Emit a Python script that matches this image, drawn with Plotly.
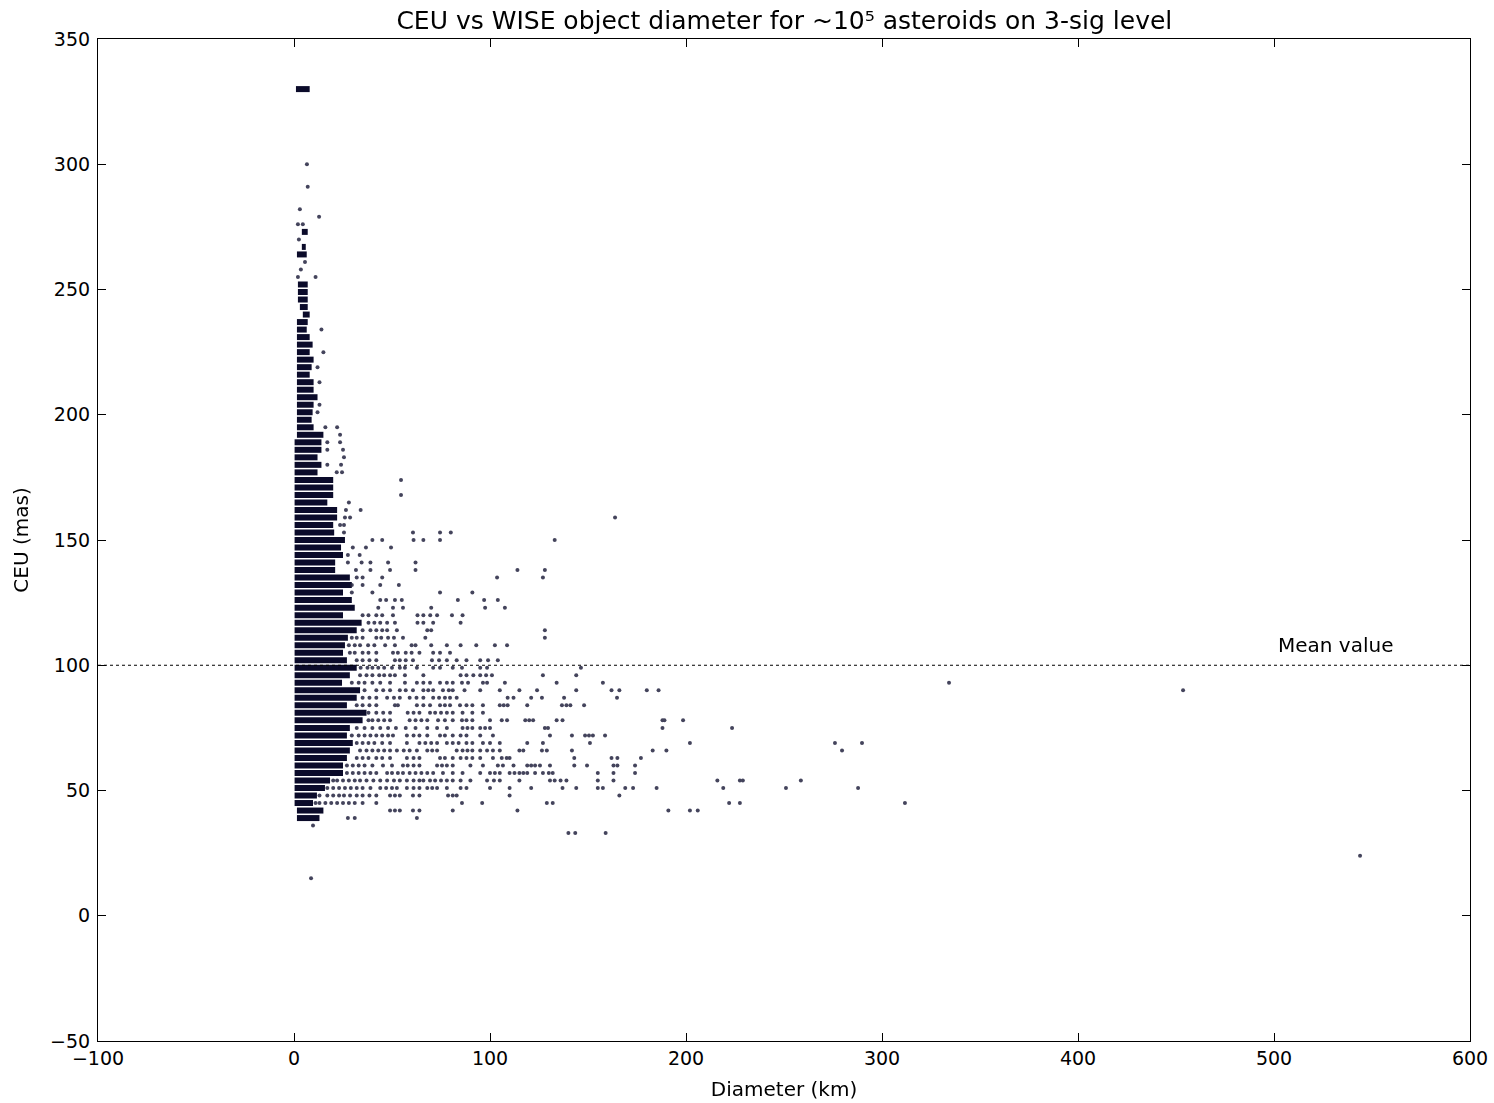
import plotly.graph_objects as go

# ---------------- data ----------------
# Dense, saturated runs of points at each quantised CEU level (mas): start/end diameter (km)
dense_ceu = [330, 273, 267, 264,
             252, 249, 246, 243, 240, 237, 234, 231, 228, 225, 222, 219, 216, 213, 210, 207, 204, 201, 198, 195, 192,
             189, 186, 183, 180, 177, 174, 171, 168, 165, 162, 159, 156, 153, 150, 147, 144, 141, 138, 135, 132, 129,
             126, 123, 120, 117, 114, 111, 108, 105, 102, 99, 96, 93, 90, 87, 84, 81, 78, 75, 72, 69, 66, 63, 60, 57,
             54, 51, 48, 45, 42, 39]
dense_start = [1, 4, 4, 1.5,
               2, 2, 2, 3, 4.5, 1.5, 1.5, 1.5, 1.5, 1.5, 1.5, 1.5, 1.5, 1.5, 1.5, 1.5, 1.5, 1.5, 1.5, 1.5, 1.5,
               0.3, 0.3, 0.3, 0.3, 0.3, 0.3, 0.3, 0.3, 0.3, 0.3, 0.3, 0.3, 0.3, 0.3, 0.3, 0.3, 0.3, 0.3, 0.3, 0.3, 0.3,
               0.3, 0.3, 0.3, 0.3, 0.3, 0.3, 0.3, 0.3, 0.3, 0.3, 0.3, 0.3, 0.3, 0.3, 0.3, 0.3, 0.3, 0.3, 0.3, 0.3, 0.3,
               0.3, 0.3, 0.3, 0.3, 0.3, 0.3, 0.3, 1.5, 1.5]
dense_end = [8, 7, 6, 6.5,
             7, 7, 7, 7, 8, 7, 6.5, 8, 9.5, 8, 10, 9, 8, 10, 10, 12, 10, 9.5, 9, 10, 15,
             14, 14, 12, 14, 12, 20, 20, 20, 17, 22, 22, 20, 20.5, 26, 24, 25, 21, 21, 28.5, 29.5, 25,
             29.5, 31, 25, 34.5, 32, 27.5, 26, 25, 27, 32, 28.5, 24.5, 33.7, 32, 27, 37, 35, 28.5, 27, 30, 28.5, 27,
             25, 25, 18.4, 15.8, 11.7, 9.7, 15, 13]

# Individual (sparse) points: CEU level and the diameters (km) of the points on it
sparse_ceu = [300, 291, 282, 279, 276, 270, 261, 258, 255, 234, 225, 219, 213, 204, 201, 195, 192, 189, 186, 183,
              180, 177, 174, 168, 165, 162, 159, 156, 153, 150, 147, 144, 141, 138, 135, 132, 129, 126, 123, 120,
              117, 114, 111, 108, 105, 102, 99, 96, 93, 90, 87, 84, 81, 78, 75, 72, 69, 66, 63, 60, 57, 54, 51,
              48, 45, 42, 39, 36, 33, 24, 15]
sparse_diam = [
    [6.6], [7], [3], [12.8], [2, 4.5], [2.5], [5.6], [3.5], [2, 11], [14], [15], [12], [13], [13], [12],
    [16, 22], [23.5], [17, 23.5], [17, 25], [25.5],
    [17, 24], [21.8, 24.5], [54.6], [54.6], [28], [26.5, 34], [26, 28.6, 163.8], [23.5, 25.5],
    [25.5, 60.7, 74.5, 80], [40, 45, 61, 66, 74.5, 133], [30, 36.7, 49.5], [27.5, 33.5],
    [27.5, 34.5, 39, 48, 62], [31.6, 39, 49, 62, 114, 128], [32, 35, 45, 103.6, 127], [29.5, 35, 44, 53.5],
    [29.5, 40, 74.5, 91], [44, 47, 51.5, 55, 83.6, 97, 104], [43, 50.5, 55.6, 70, 97.5, 107.6],
    [35, 38, 42, 45, 50.5, 63, 66, 69.5, 73, 80.6, 86],
    [38, 41, 44, 47.5, 51.5, 63, 66, 71, 85],
    [35, 39, 42, 45, 47.5, 52.5, 68, 70, 128],
    [29.5, 32, 35, 42, 44.5, 48, 51, 55.6, 67, 128],
    [28, 31, 33.7, 37.8, 41, 46.5, 51.5, 60, 62, 70, 78, 85, 93, 102.5, 108.7],
    [28.5, 31, 35, 38, 42, 50.5, 53, 57, 60, 64, 71, 74.5, 79.6],
    [32, 35, 38.5, 42, 51.5, 54, 57, 60.7, 70.4, 74, 78, 83, 88, 95, 99, 104],
    [34, 37.5, 40, 43, 46, 50, 54, 56.6, 62.7, 71, 74.5, 81, 85.7, 95, 98.5, 146.4],
    [33.7, 37, 40, 43.5, 46, 49, 51.5, 56.6, 66, 85, 88, 91.5, 95, 98, 101, 127, 144],
    [29.5, 33, 36, 40, 44, 49, 56.6, 62.7, 66, 69.4, 74.5, 78, 81, 85.7, 88.8, 96.4, 98.5, 107.6, 134, 157.6, 334.2],
    [36, 42, 45.5, 49, 54, 57, 60.7, 66, 68.5, 71, 76, 79, 81, 87, 95, 105, 115, 124, 144, 162, 166, 180, 186, 453.6],
    [35, 38.5, 42, 47.5, 51, 54, 59, 62.5, 66, 71, 74, 77, 79.6, 83, 109, 112, 121, 126.5, 137.8, 164.8],
    [32, 35, 38.5, 42, 51.5, 53, 62.7, 66, 69.4, 74.5, 77, 79.6, 84.7, 88, 91, 96.4, 105, 107, 109, 119, 136.7,
     139, 141, 148],
    [38, 42, 45.5, 49, 58, 61, 64, 69.4, 72, 75, 78, 81, 86, 91, 96.4],
    [38, 40, 43, 46, 49, 59, 62, 65, 68, 73.5, 77, 81, 85.7, 88, 91, 100, 106, 108.7, 118, 120, 122, 134, 137,
     188, 189, 198.5],
    [32, 36, 40, 44, 48, 52, 57, 62, 68, 73, 78, 86, 88.5, 91, 95, 97.5, 100, 128, 129.6, 188, 223.5],
    [29.5, 33, 36, 39, 42, 45, 48, 50.5, 57.6, 61, 64, 68, 74.5, 77, 81, 85, 88, 95, 101.5, 130.6, 141.8,
     148.5, 150.5, 152.5, 158.7],
    [32, 35, 38, 41, 45, 49, 57.6, 64, 67, 70, 73, 78, 81, 84, 88, 91, 96.4, 100, 105, 119, 127, 151, 202, 276,
     289.8],
    [33.7, 37, 40, 43, 46, 49, 52.5, 56, 59, 62.7, 68, 70.5, 73, 83, 86, 88.5, 91, 95, 98.5, 101.5, 105, 115,
     117, 126.5, 129, 141.8, 183, 190, 279.6],
    [32, 35, 38, 42, 45, 49, 57.6, 61, 64, 74.5, 77, 81, 85, 88, 91, 95, 101.5, 106, 108.5, 110, 143, 162, 165,
     177],
    [27, 30, 33, 36, 40, 45.4, 50, 55.6, 58, 61, 64, 73, 75.5, 78, 81, 90, 96.4, 104, 106.6, 112, 119, 121, 123,
     125.5, 130.6, 143, 149.5, 163, 165, 174],
    [27, 30, 33, 36, 39, 42, 47.5, 50, 53, 55.6, 59, 62, 65, 68, 71, 76, 81, 86, 95, 100, 102.5, 105, 110,
     112.5, 115, 117, 119, 123, 127, 130, 132, 155, 163, 174],
    [20, 22, 25, 28, 31, 33.7, 37, 40.5, 44, 47.5, 51, 54, 57.6, 61, 64, 66, 69.4, 72, 75, 78, 81, 85, 90, 98.5,
     102, 105, 115, 130.6, 133, 136, 139, 155, 163, 216, 227.5, 229, 258.6],
    [17, 20, 23, 26, 29, 32, 35, 39, 44, 47, 50, 52.5, 57.6, 61, 64, 68, 70.5, 73, 78, 85, 88, 100, 110, 121,
     137, 144, 155, 157.6, 169, 173, 185, 219, 251, 287.8],
    [13, 17, 20, 23, 25.5, 28.6, 32, 35, 38.5, 42, 49, 51.5, 54, 60.7, 64, 78.6, 81, 83, 110, 166],
    [11, 13, 16, 19, 22, 25, 28, 31, 35, 42, 85.7, 96, 129, 132, 222, 227.5, 311.7],
    [49, 51.5, 54, 60.7, 64, 81, 114, 191, 202, 206],
    [27.5, 31, 62.7],
    [9.7],
    [140, 143.5, 159],
    [543.9],
    [8.7],
]

mean_ceu = 100
x_ticks = [-100, 0, 100, 200, 300, 400, 500, 600]
y_ticks = [-50, 0, 50, 100, 150, 200, 250, 300, 350]

# ---------------- build traces ----------------
seg_x, seg_y = [], []
for c, s, e in zip(dense_ceu, dense_start, dense_end):
    seg_x += [s, e, None]
    seg_y += [c, c, None]

pt_x, pt_y = [], []
for c, ds in zip(sparse_ceu, sparse_diam):
    for d in ds:
        pt_x.append(d)
        pt_y.append(c)

fig = go.Figure()
fig.add_trace(go.Scatter(x=seg_x, y=seg_y, mode="lines",
                         line=dict(color="#0b0b2a", width=6),
                         hoverinfo="skip", showlegend=False))
fig.add_trace(go.Scatter(x=pt_x, y=pt_y, mode="markers",
                         marker=dict(color="#23233f", size=4, line=dict(width=0)),
                         opacity=0.85, hoverinfo="skip", showlegend=False))
# mean value line
fig.add_trace(go.Scatter(x=[x_ticks[0], x_ticks[-1]], y=[mean_ceu, mean_ceu], mode="lines",
                         line=dict(color="black", width=1, dash="3px,3px"),
                         hoverinfo="skip", showlegend=False))

fig.add_annotation(x=501, y=102.5, text="Mean value", showarrow=False,
                   xanchor="left", yanchor="bottom",
                   font=dict(size=20, color="black"))

axis_common = dict(showline=True, linecolor="black", linewidth=1.2, mirror="allticks",
                   ticks="inside", ticklen=8, tickwidth=1, tickcolor="black",
                   showgrid=False, zeroline=False, automargin=False,
                   tickfont=dict(size=19, color="black"))

fig.update_layout(
    width=1494, height=1103,
    margin=dict(l=98, r=24, t=39, b=62, autoexpand=False),
    paper_bgcolor="white", plot_bgcolor="white",
    font=dict(family="DejaVu Sans", color="black"),
    title=dict(text="CEU vs WISE object diameter for ~10⁵ asteroids on 3-sig level",
               x=0.525, xanchor="center", y=0.982, yanchor="middle",
               font=dict(size=25, color="black")),
    xaxis=dict(range=[x_ticks[0], x_ticks[-1]], tickvals=x_ticks,
               title=dict(text="Diameter (km)", font=dict(size=20), standoff=14),
               **axis_common),
    yaxis=dict(range=[y_ticks[0], y_ticks[-1]], tickvals=y_ticks, ticklabelstandoff=3,
               title=dict(text="CEU (mas)", font=dict(size=20), standoff=15),
               **axis_common),
)

fig.write_html("out.html")
